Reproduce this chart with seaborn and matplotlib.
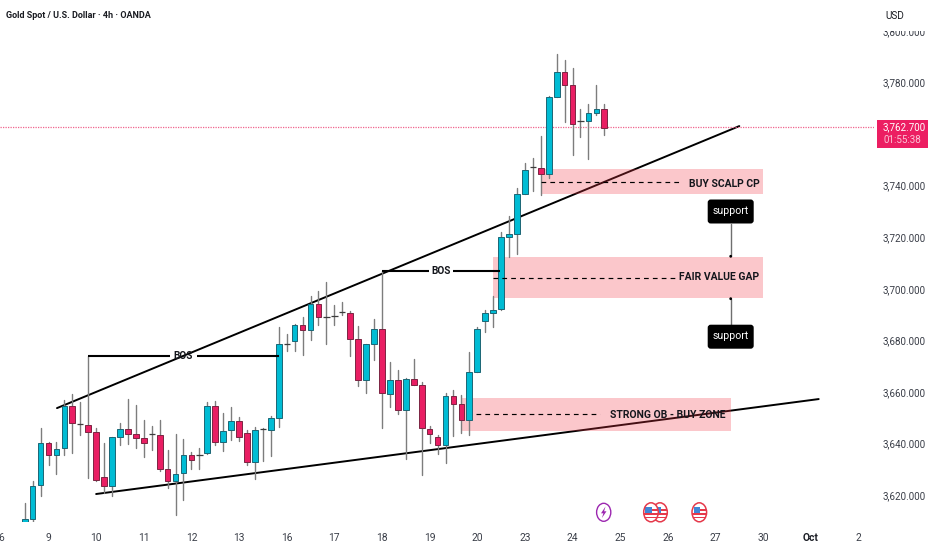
import numpy as np
import pandas as pd
import matplotlib
matplotlib.use("Agg")
import matplotlib.pyplot as plt
from matplotlib.patches import Rectangle, Ellipse, FancyBboxPatch, Polygon
from matplotlib.transforms import Affine2D
import seaborn as sns

# ---------- data ----------
first_bar = -3
opens = [3608.9, 3611.0, 3623.9, 3640.1, 3635.8, 3638.2, 3654.5, 3647.5, 3647.1, 3644.7,
         3627.1, 3623.6, 3642.6, 3645.6, 3643.6, 3642.3, 3643.8, 3643.4, 3630.1, 3625.7,
         3628.6, 3635.8, 3635.8, 3636.3, 3654.5, 3640.8, 3645.2, 3648.7, 3644.0, 3633.0,
         3645.6, 3645.2, 3650.1, 3678.7, 3680.0, 3685.9, 3684.0, 3694.0, 3689.3, 3689.6,
         3691.2, 3690.8, 3680.5, 3664.7, 3678.5, 3684.4, 3659.3, 3664.8, 3653.2, 3665.0,
         3662.9, 3645.8, 3642.5, 3639.6, 3658.4, 3655.4, 3649.0, 3667.9, 3687.5, 3690.7,
         3692.1, 3720.0, 3721.4, 3736.9, 3747.2, 3747.0, 3744.4, 3774.3, 3784.2, 3778.9,
         3765.2, 3765.0, 3768.2, 3769.6]
highs = [3616.9, 3625.5, 3646.2, 3640.8, 3640.7, 3656.9, 3659.1, 3656.3, 3674.0, 3646.0,
         3640.4, 3642.7, 3648.2, 3657.2, 3655.1, 3649.2, 3646.9, 3649.2, 3637.6, 3643.8,
         3641.8, 3636.9, 3638.2, 3656.0, 3656.4, 3652.0, 3654.1, 3650.5, 3645.3, 3646.6,
         3645.9, 3650.7, 3685.4, 3682.5, 3686.4, 3689.0, 3697.3, 3699.3, 3702.8, 3693.8,
         3695.1, 3691.5, 3685.6, 3678.8, 3688.2, 3707.0, 3671.7, 3668.6, 3665.6, 3672.9,
         3664.1, 3646.9, 3643.4, 3659.8, 3660.8, 3658.8, 3675.7, 3685.1, 3691.8, 3697.3,
         3722.2, 3728.3, 3739.3, 3748.7, 3750.6, 3759.3, 3774.9, 3791.1, 3788.6, 3785.6,
         3769.6, 3771.6, 3779.1, 3771.6]
lows = [3608.5, 3609.0, 3619.9, 3631.6, 3628.3, 3635.8, 3636.3, 3643.4, 3626.6, 3625.6,
        3621.0, 3619.9, 3639.5, 3639.9, 3638.5, 3635.0, 3637.6, 3629.6, 3622.7, 3612.5,
        3618.2, 3630.1, 3630.2, 3636.0, 3639.4, 3637.3, 3641.4, 3641.2, 3631.9, 3626.2,
        3633.4, 3635.2, 3646.6, 3676.0, 3676.1, 3674.5, 3680.1, 3686.0, 3678.8, 3686.0,
        3689.9, 3673.8, 3662.4, 3659.8, 3672.5, 3646.0, 3654.4, 3651.5, 3633.9, 3662.9,
        3627.8, 3640.2, 3636.0, 3632.4, 3643.0, 3644.3, 3643.4, 3667.9, 3683.4, 3685.4,
        3691.8, 3712.3, 3713.7, 3736.9, 3738.0, 3736.4, 3743.1, 3774.3, 3764.8, 3751.9,
        3759.0, 3750.5, 3767.3, 3759.7]
closes = [3610.8, 3623.7, 3640.4, 3635.5, 3638.1, 3654.5, 3647.9, 3647.5, 3644.7, 3625.9,
          3623.7, 3642.5, 3645.6, 3643.6, 3642.3, 3640.3, 3643.8, 3630.3, 3625.7, 3628.4,
          3635.8, 3633.7, 3635.8, 3654.5, 3640.8, 3645.1, 3648.7, 3642.7, 3633.0, 3645.3,
          3645.6, 3650.1, 3678.8, 3678.7, 3685.9, 3684.0, 3694.0, 3689.3, 3689.3, 3689.6,
          3691.2, 3680.5, 3664.7, 3678.5, 3684.4, 3659.5, 3664.8, 3653.2, 3665.1, 3662.9,
          3646.0, 3643.8, 3639.6, 3658.4, 3655.3, 3649.0, 3667.9, 3684.6, 3690.6, 3691.7,
          3720.0, 3721.2, 3736.8, 3746.1, 3747.2, 3744.6, 3774.3, 3784.2, 3779.2, 3763.9,
          3765.2, 3768.1, 3769.9, 3762.4]

day_ticks = [-6, 0, 6, 12, 18, 24, 30, 36, 42, 48, 54, 60, 66, 72, 78, 84, 90, 96, 102]
day_labels = ["6", "9", "10", "11", "12", "13", "16", "17", "18", "19", "20", "23", "24",
              "25", "26", "27", "30", "Oct", "2"]
price_ticks = [3620, 3640, 3660, 3680, 3700, 3720, 3740, 3780, 3800]
last_price = 3762.7

upper_x, upper_y = [1.07, 87.0], [3653.8, 3763.1]
lower_x, lower_y = [6.0, 97.0], [3620.5, 3657.3]

# zone: left, right, bottom, top, dashed level, dash start, dash end, label, label centre
zones = [
    (62, 90, 3736.7, 3746.5, 3741.6, 62.0, 79.5, "BUY SCALP CP", 85.1, 3740.7),
    (56, 90, 3696.4, 3712.2, 3704.4, 56.0, 79.0, "FAIR VALUE GAP", 84.5, 3704.6),
    (52, 86, 3645.0, 3657.7, 3651.5, 53.8, 69.5, "STRONG OB - BUY ZONE", 78.0, 3651.0),
]
bos_segments = [
    (5.0, 15.3, 3674.0, 17.0),
    (18.7, 29.0, 3674.0, None),
    (42.0, 47.9, 3706.8, 49.4),
    (50.9, 56.9, 3706.8, None),
]

# ---------- styling ----------
W, H = 932, 550
BG = "white"
CYAN, CYAN_EDGE = "#00BCD4", "#1b6675"
RED, RED_EDGE = "#E91E63", "#7c2442"
WICK = "#7d7d7d"
ZONE = "#F23645"
LABEL = "#3a3e48"

sns.set_theme(style="white")
plt.rcParams["font.family"] = ["Roboto", "DejaVu Sans"]

fig = plt.figure(figsize=(W / 100, H / 100), dpi=100, facecolor=BG)
ax_bottom_px = 522
ax_right_px = 874
ax = fig.add_axes([0, 1 - ax_bottom_px / H, ax_right_px / W, ax_bottom_px / H])
ax.set_facecolor(BG)

positions = np.arange(first_bar, first_bar + len(opens))
candles = pd.DataFrame({"pos": positions, "open": opens, "high": highs, "low": lows, "close": closes})
wicks = candles.melt(id_vars="pos", value_vars=["high", "low"], value_name="price")

# trend lines sit below the translucent zones
sns.lineplot(x=upper_x, y=upper_y, ax=ax, color="black", lw=1.4, zorder=1, legend=False)
sns.lineplot(x=lower_x, y=lower_y, ax=ax, color="black", lw=1.4, zorder=1, legend=False)

for left, right, bot, top, level, d0, d1, text, tx, ty in zones:
    ax.add_patch(Rectangle((left, bot), right - left, top - bot, fc=ZONE, ec="none", alpha=0.28, zorder=2))
    ax.plot([d0, d1], [level, level], color="black", lw=0.85, ls=(0, (4, 3.5)), zorder=5)
    ax.text(tx, ty, text, ha="center", va="center", fontsize=7.5, fontweight="bold", color="#14161c", zorder=6)

sns.lineplot(data=wicks, x="pos", y="price", units="pos", estimator=None, ax=ax,
             color=WICK, lw=1.0, zorder=3, legend=False)

up = candles["close"] >= candles["open"]
flat = candles["close"] == candles["open"]
body_bottom = candles[["open", "close"]].min(axis=1)
body_height = (candles["close"] - candles["open"]).abs()
ax.bar(candles["pos"][up & ~flat], body_height[up & ~flat], bottom=body_bottom[up & ~flat], width=0.72,
       color=CYAN, edgecolor=CYAN_EDGE, linewidth=0.7, zorder=4)
ax.bar(candles["pos"][~up], body_height[~up], bottom=body_bottom[~up], width=0.72,
       color=RED, edgecolor=RED_EDGE, linewidth=0.7, zorder=4)
ax.hlines(candles["close"][flat], candles["pos"][flat] - 0.4, candles["pos"][flat] + 0.4,
          color="#3c3c3c", lw=0.9, zorder=4)

for x0, x1, level, label_x in bos_segments:
    ax.plot([x0, x1], [level, level], color="black", lw=1.5, zorder=5, solid_capstyle="butt")
    if label_x is not None:
        ax.text(label_x, level, "BOS", ha="center", va="center", fontsize=7.2, fontweight="bold",
                color="#14161c", zorder=6)

ax.axhline(last_price, color="#F0648E", lw=0.9, ls=(0, (1, 1)), zorder=1.5)

# axes: same scale as the reference (7.94 px per bar, 2.58 px per price unit)
ax.set_xlim(-48.5 / 7.94, (ax_right_px - 48.5) / 7.94)
ax.set_ylim(3780 - (ax_bottom_px - 82.5) / 2.58, 3780 + 82.5 / 2.58)
ax.set_xlabel("")
ax.set_ylabel("")
ax.set_xticks(day_ticks, day_labels)
ax.set_yticks(price_ticks, [f"{p:,.3f}" for p in price_ticks])
ax.yaxis.tick_right()
ax.tick_params(axis="y", length=0, pad=6.5, labelsize=7.1, labelcolor=LABEL)
ax.tick_params(axis="x", length=0, pad=8, labelsize=7.4, labelcolor=LABEL)
for lbl in ax.get_xticklabels():
    if lbl.get_text() == "Oct":
        lbl.set_fontweight("bold")
        lbl.set_color("#1c1f26")
sns.despine(ax=ax, left=True, right=True, top=True, bottom=True)
ax.grid(False)

# ---------- pixel-placed furniture ----------
px = Affine2D().scale(1, -1).translate(0, H)


def pxa(artist, z=6):
    artist.set_transform(px)
    artist.set_zorder(z)
    fig.add_artist(artist)
    return artist


def ptext(x, y, s, **kw):
    kw.setdefault("zorder", 8)
    return fig.text(x / W, 1 - y / H, s, **kw)


# top band hides the upper half of the 3,800 label, as in the reference
pxa(Rectangle((ax_right_px, 0), W - ax_right_px, 30.5, fc=BG, ec="none"), z=5)
ptext(6, 15.5, "Gold Spot / U.S. Dollar · 4h · OANDA", fontsize=6.5, fontweight="bold", color="#1a1c22",
      va="center", ha="left")
ptext(885, 16, "USD", fontsize=7.2, color="#1a1c22", va="center", ha="left")

pxa(Rectangle((877, 120), 51, 28.3, fc="#EC1E62", ec="none"))
ptext(883, 127.5, f"{last_price:,.3f}", fontsize=7.1, color="white", va="center", ha="left")
ptext(883, 140.5, "01:55:38", fontsize=7.1, color="#fbc4d6", va="center", ha="left")

# support call-outs
for top, bottom, line_y0, line_y1, dot_y in [(199.5, 223.5, 223.5, 256.3, 256.3),
                                             (324.7, 348.7, 298.7, 325, 298.7)]:
    fig.add_artist(plt.Line2D([730.7, 730.7], [line_y0, line_y1], color="#6f6f6f", lw=1.0,
                              transform=px, zorder=6))
    pxa(Ellipse((730.7, dot_y), 2.8, 2.8, fc="black", ec="none"), z=7)
    pxa(FancyBboxPatch((710.7, top + 3), 40, bottom - top - 6, boxstyle="round,pad=3,rounding_size=3",
                       fc="black", ec="none"), z=7)
    ptext(730.7, (top + bottom) / 2 - 0.3, "support", fontsize=7.6, color="white", ha="center", va="center")

# calendar event icons
pxa(Ellipse((603.7, 512.3), 14.2, 18, fc="white", ec="#9C27B0", lw=1.0))
pxa(Polygon([(605.5, 506.5), (601, 513.3), (603.4, 513.3), (601.9, 518), (606.5, 511.3), (604.1, 511.3)],
            closed=True, fc="#9C27B0", ec="none"), z=7)

FLAG_RED, FLAG_BLUE = "#E5394B", "#3F86D6"
for cx in [660.0, 651.0, 699.3]:
    z = 7 if cx == 651.0 else 6.5
    disc = pxa(Ellipse((cx, 512.3), 14.6, 19, fc="white", ec="none"), z=z)
    parts = [
        Rectangle((cx - 7.3, 512.8), 14.6, 1.7, fc=FLAG_RED, ec="none"),
        Rectangle((cx - 7.3, 516.6), 14.6, 1.7, fc=FLAG_RED, ec="none"),
        Rectangle((cx + 0.5, 509.0), 7, 1.7, fc=FLAG_RED, ec="none"),
        Rectangle((cx - 5.6, 506.6), 6.1, 6.2, fc=FLAG_BLUE, ec="none"),
    ]
    for part in parts:
        pxa(part, z=z + 0.01)
        part.set_clip_path(disc)
    pxa(Ellipse((cx, 512.3), 14.6, 19, fc="none", ec=FLAG_RED, lw=1.1), z=z + 0.02)

fig.savefig("out.png", dpi=100, facecolor=BG)
